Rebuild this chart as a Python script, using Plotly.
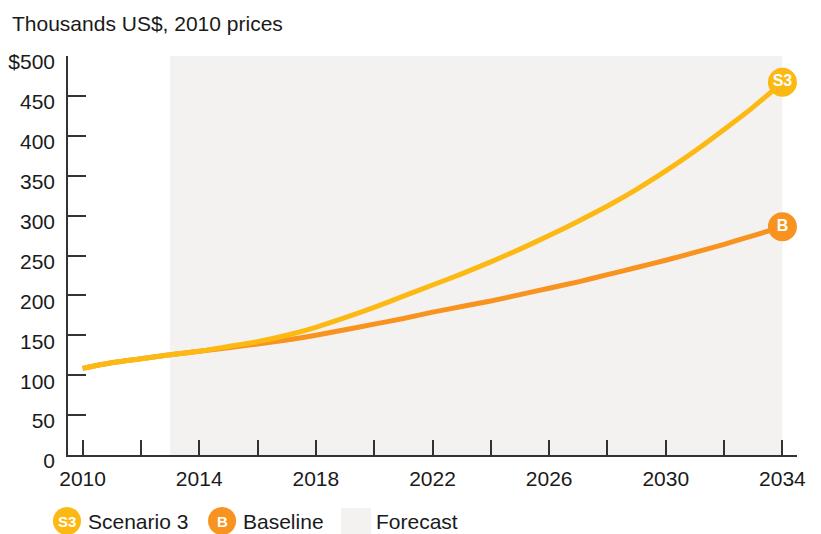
import plotly.graph_objects as go

years = list(range(2010, 2035))
scenario3 = [108.6, 115.5, 120.5, 125.5, 130, 136, 142, 150, 160, 172, 185, 199, 213,
             227, 242, 258, 275, 293, 312, 333, 356, 381, 408, 436, 467]
baseline = [108.6, 115.5, 120.5, 125.5, 130, 134.5, 139, 144, 150, 157, 164, 171, 179,
            186, 193, 201, 209, 217, 226, 235, 244, 254, 264, 275, 286]
forecast_start, forecast_end = 2013, 2034
x_tickvals = list(range(2010, 2035, 2))
x_ticktext = ["2010", "", "2014", "", "2018", "", "2022", "", "2026", "", "2030", "", "2034"]
y_tickvals = [0, 50, 100, 150, 200, 250, 300, 350, 400, 450, 500]
y_ticktext = ["0", "50", "100", "150", "200", "250", "300", "350", "400", "450", "$500"]

YELLOW = "#FDB913"
ORANGE = "#F7931E"
SHADE = "#F3F2F1"
TXT = "#1a1a1a"
FONT = "Liberation Sans, Arial, Helvetica, sans-serif"
FS = 21

fig = go.Figure()
fig.add_trace(go.Scatter(x=years, y=baseline, mode="lines",
                         line=dict(color=ORANGE, width=5, shape="spline", smoothing=0.6),
                         hoverinfo="skip", showlegend=False))
fig.add_trace(go.Scatter(x=years, y=scenario3, mode="lines",
                         line=dict(color=YELLOW, width=5, shape="spline", smoothing=0.6),
                         hoverinfo="skip", showlegend=False))
# end markers
fig.add_trace(go.Scatter(x=[years[-1]], y=[baseline[-1]], mode="markers+text",
                         marker=dict(color=ORANGE, size=29), text=["B"],
                         textposition="middle center",
                         textfont=dict(color="white", size=16, family=FONT, weight="bold"),
                         cliponaxis=False, showlegend=False, hoverinfo="skip"))
fig.add_trace(go.Scatter(x=[years[-1]], y=[scenario3[-1]], mode="markers+text",
                         marker=dict(color=YELLOW, size=29), text=["S3"],
                         textposition="middle center",
                         textfont=dict(color="white", size=16, family=FONT, weight="bold"),
                         cliponaxis=False, showlegend=False, hoverinfo="skip"))

shapes = [dict(type="rect", xref="x", yref="y", x0=forecast_start, x1=forecast_end,
               y0=0, y1=500, fillcolor=SHADE, line=dict(width=0), layer="below")]

# page body has an 8px margin: figure coords = window coords - 8
OFF = 8
W, H = 821 - OFF, 534 - OFF
L, T = 68 - OFF, 56 - OFF
R = W - (796.7 - OFF)
B = H - (455 - OFF)
pw, ph = W - L - R, H - T - B
def px(xw):
    return (xw - OFF - L) / pw
def py(yw):
    return (H - B - (yw - OFF)) / ph

leg_y = py(521)
for cx, col, lab in [(67, YELLOW, "S3"), (222, ORANGE, "B")]:
    shapes.append(dict(type="circle", xref="paper", yref="paper",
                       xsizemode="pixel", ysizemode="pixel",
                       xanchor=px(cx), yanchor=leg_y,
                       x0=-14, x1=14, y0=-14, y1=14,
                       fillcolor=col, line=dict(width=0), layer="above"))
shapes.append(dict(type="rect", xref="paper", yref="paper",
                   xsizemode="pixel", ysizemode="pixel",
                   xanchor=px(356), yanchor=py(523),
                   x0=-15, x1=15, y0=-15, y1=15,
                   fillcolor=SHADE, line=dict(width=0), layer="above"))

annotations = [
    dict(text="Thousands US$, 2010 prices", xref="paper", yref="paper",
         x=px(10), y=py(23), xanchor="left", yanchor="middle", showarrow=False,
         font=dict(size=FS, color=TXT, family=FONT)),
    dict(text="S3", xref="paper", yref="paper", x=px(67), y=leg_y,
         xanchor="center", yanchor="middle", showarrow=False,
         font=dict(size=15, color="white", family=FONT, weight="bold")),
    dict(text="B", xref="paper", yref="paper", x=px(222), y=leg_y,
         xanchor="center", yanchor="middle", showarrow=False,
         font=dict(size=15, color="white", family=FONT, weight="bold")),
    dict(text="Scenario 3", xref="paper", yref="paper", x=px(86), y=leg_y,
         xanchor="left", yanchor="middle", showarrow=False,
         font=dict(size=FS, color=TXT, family=FONT)),
    dict(text="Baseline", xref="paper", yref="paper", x=px(241), y=leg_y,
         xanchor="left", yanchor="middle", showarrow=False,
         font=dict(size=FS, color=TXT, family=FONT)),
    dict(text="Forecast", xref="paper", yref="paper", x=px(374), y=leg_y,
         xanchor="left", yanchor="middle", showarrow=False,
         font=dict(size=FS, color=TXT, family=FONT)),
]

fig.update_layout(
    width=W, height=H,
    margin=dict(l=L, r=R, t=T, b=B, pad=0, autoexpand=False),
    paper_bgcolor="white", plot_bgcolor="white",
    font=dict(family=FONT, size=FS, color=TXT),
    shapes=shapes, annotations=annotations,
    xaxis=dict(range=[2009.5, 2034.5], showgrid=False, zeroline=False, automargin=False,
               showline=True, linecolor="#333", linewidth=1.5,
               ticks="inside", ticklen=15, tickwidth=1.5, tickcolor="#333",
               tickvals=x_tickvals, ticktext=x_ticktext,
               ticklabelstandoff=4,
               tickfont=dict(size=FS, color=TXT, family=FONT), fixedrange=True),
    yaxis=dict(range=[0, 500], showgrid=False, zeroline=False, automargin=False,
               showline=True, linecolor="#333", linewidth=1.5,
               ticks="inside", ticklen=18, tickwidth=1.5, tickcolor="#333",
               tickvals=y_tickvals, ticktext=y_ticktext,
               ticklabelstandoff=7, ticklabelshift=6,
               tickfont=dict(size=FS, color=TXT, family=FONT), fixedrange=True),
)

fig.write_html("out.html")
